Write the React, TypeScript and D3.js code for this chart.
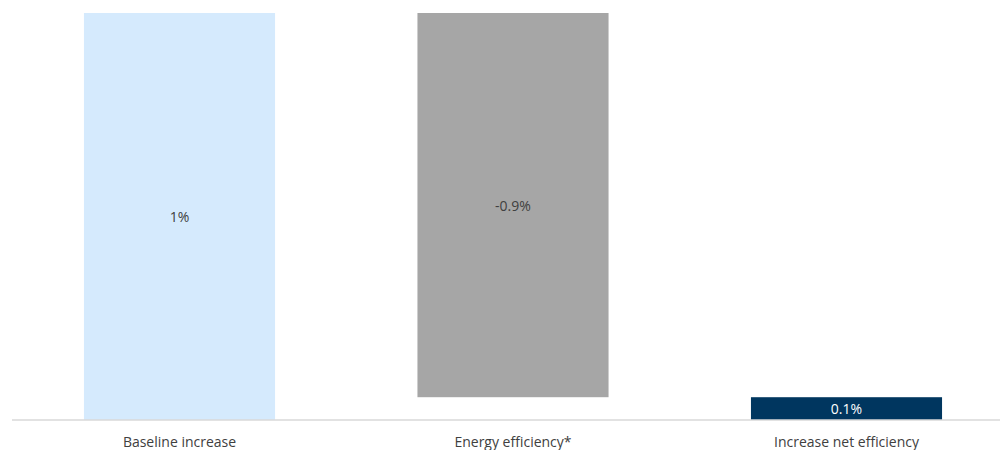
import React from "react";
import * as d3 from "d3";

const categories = ["Baseline increase", "Energy efficiency*", "Increase net efficiency"];
const changes = [1.0, -0.944, 0.056];
const isTotal = [false, false, true];
const valueLabels = ["1%", "-0.9%", "0.1%"];
const colors = ["#d5eafd", "#a6a6a6", "#00365f"];
const labelColors = ["#404040", "#404040", "#ffffff"];

const W = 1000;
const H = 450;

export default function App() {
  const x = d3
    .scaleBand<string>()
    .domain(categories)
    .range([12.75, 1013.25])
    .paddingInner(0.427)
    .paddingOuter(0.2135);
  const y = d3.scaleLinear().domain([0, 1]).range([420, 13]);

  let running = 0;
  const bars = categories.map((c, i) => {
    let start: number, end: number;
    if (isTotal[i]) {
      start = 0;
      end = running;
    } else {
      start = running;
      end = running + changes[i];
      running = end;
    }
    return { c, i, lo: Math.min(start, end), hi: Math.max(start, end) };
  });

  const font = "'Open Sans', sans-serif";

  return (
    <svg
      width={W}
      height={H}
      style={{ position: "absolute", left: 0, top: 0, background: "#fff" }}
      fontFamily={font}
    >
      {bars.map((b) => (
        <g key={b.c}>
          <rect
            x={x(b.c)}
            y={y(b.hi)}
            width={x.bandwidth()}
            height={y(b.lo) - y(b.hi)}
            fill={colors[b.i]}
          />
          <text
            x={(x(b.c) as number) + x.bandwidth() / 2}
            y={(y(b.lo) + y(b.hi)) / 2}
            textAnchor="middle"
            dominantBaseline="central"
            fontSize={14}
            fill={labelColors[b.i]}
          >
            {valueLabels[b.i]}
          </text>
        </g>
      ))}
      <line x1={12} x2={1000} y1={y(0)} y2={y(0)} stroke="#d9d9d9" strokeWidth={1.5} />
      {categories.map((c) => (
        <text
          key={c}
          x={(x(c) as number) + x.bandwidth() / 2}
          y={441}
          textAnchor="middle"
          dominantBaseline="central"
          fontSize={14}
          fill="#404040"
        >
          {c}
        </text>
      ))}
    </svg>
  );
}
